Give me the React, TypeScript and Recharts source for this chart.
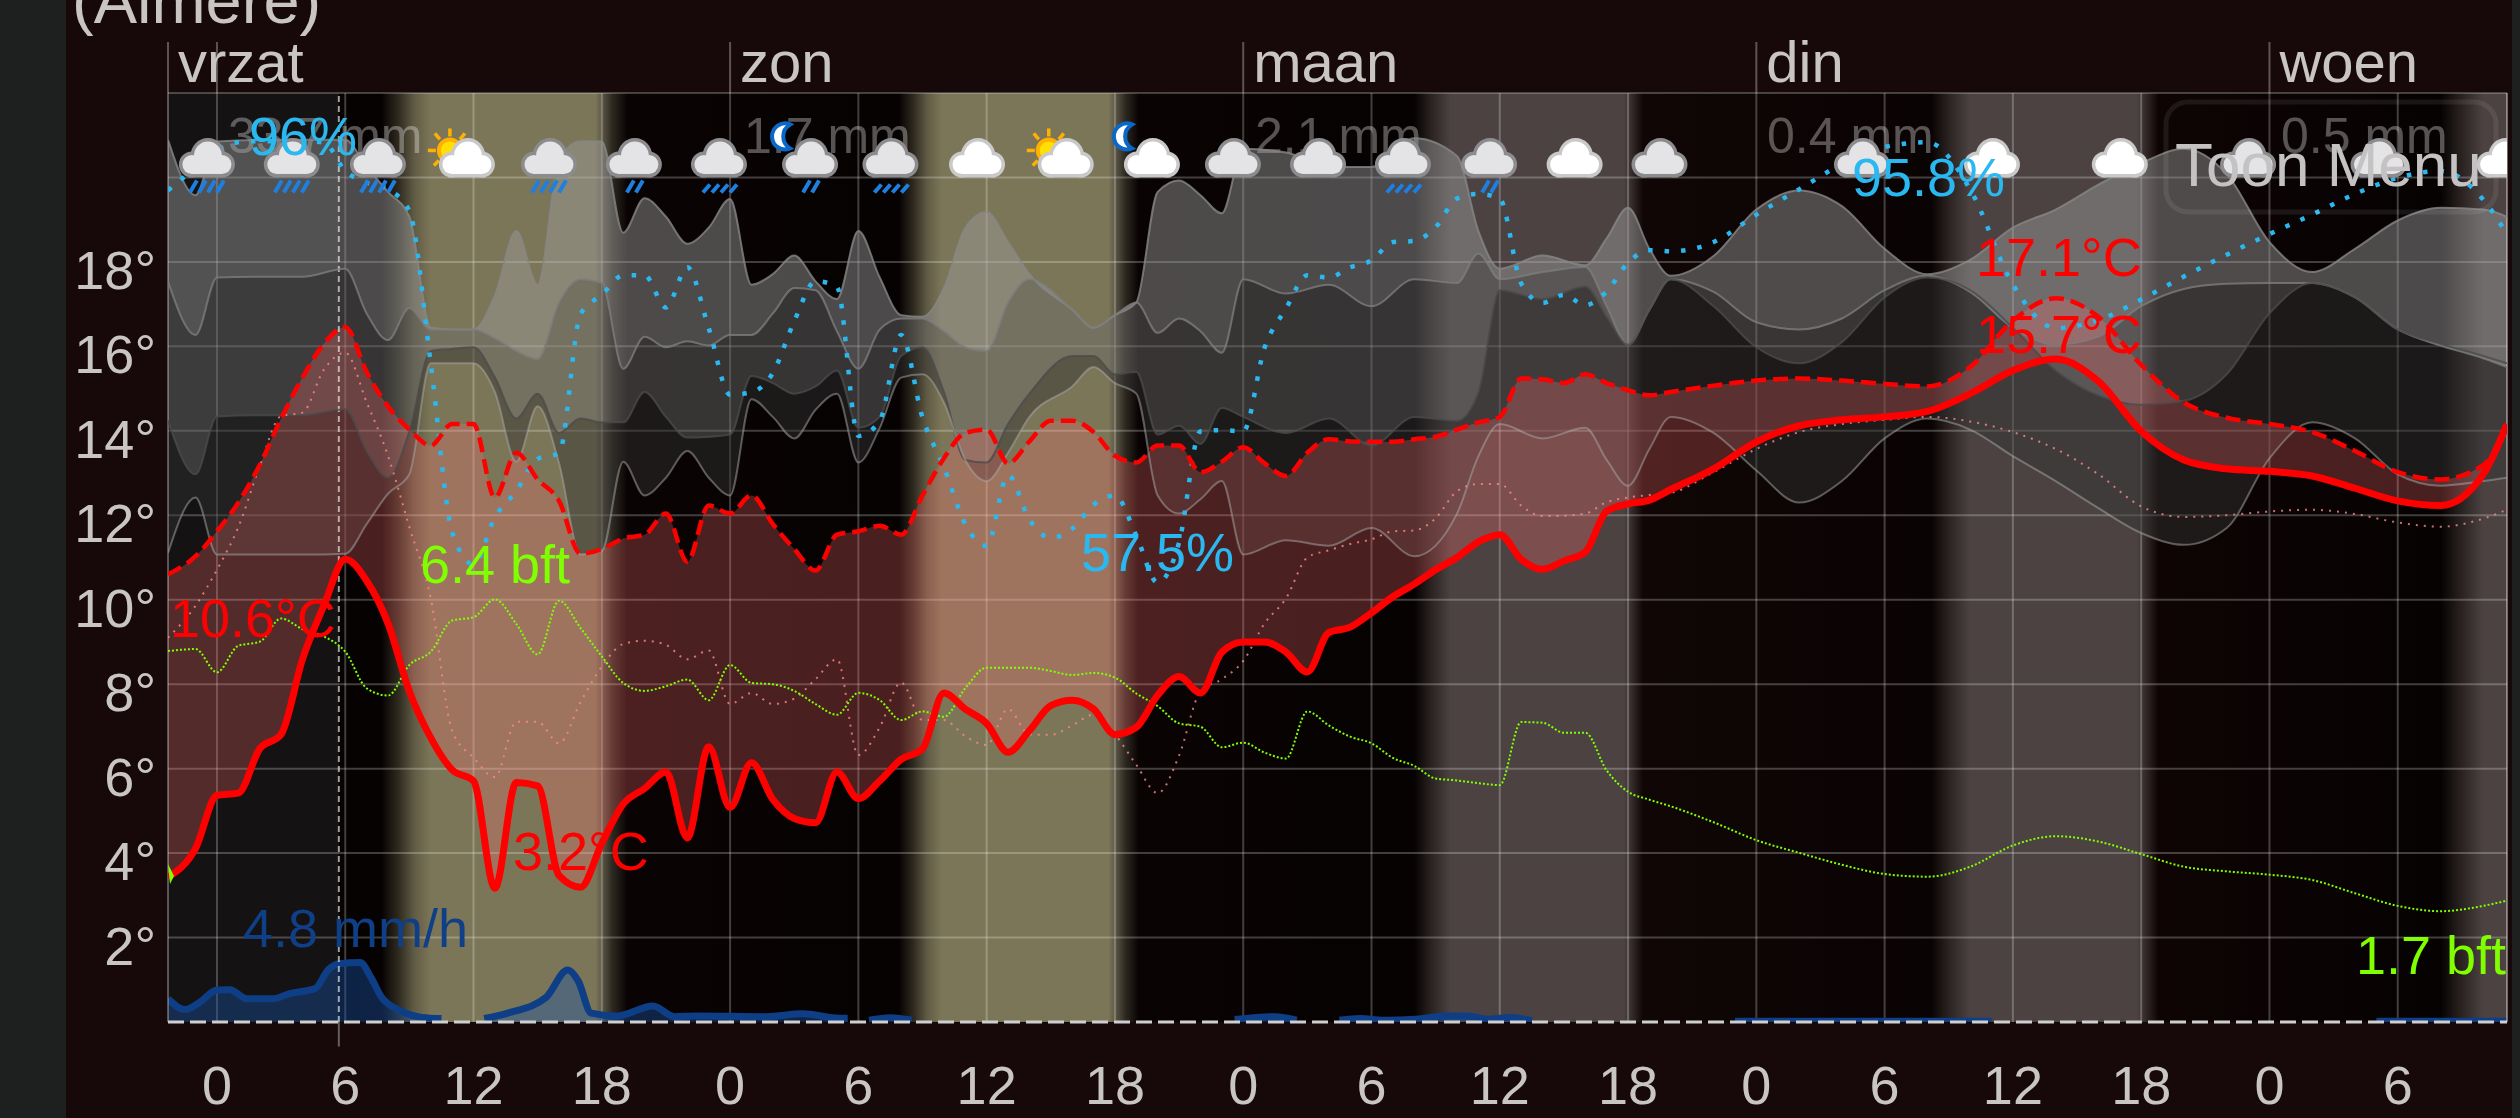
import { Area, CartesianGrid, ComposedChart, Line, ReferenceLine, XAxis, YAxis } from 'recharts';

const DOMAIN_X: [number, number] = [-2.29, 107.11];

const hourTicks = [0, 6, 12, 18, 24, 30, 36, 42, 48, 54, 60, 66, 72, 78, 84, 90, 96, 102];
const dayTicks = [-2.29, 0, 24, 48, 72, 96];
const dayNames = ['vrzat', '', 'zon', 'maan', 'din', 'woen'];
const degreeTicks = [2, 4, 6, 8, 10, 12, 14, 16, 18, 20, 22];

// hours where the sky colour changes, and the colour there
const skyHours = [-2.29, 5.7, 5.7, 7.7, 8.5, 9.2, 10, 17.7, 18, 18.5, 19.2, 31.9, 32.6, 33.2, 33.9, 41.7, 42, 42.5, 43.1, 56, 56.8, 57.7, 65.8, 66.1, 66.7, 80.2, 81, 82, 89.8, 90.1, 90.8, 104, 105, 106, 107.11];
const skyColors = ['#141212', '#141212', '#060202', '#070202', '#2f2b20', '#5f5a44', '#7c7658', '#7c7658', '#5d5845', '#2c2820', '#0a0303', '#060202', '#2f2b20', '#5f5a44', '#7c7658', '#7c7658', '#5d5845', '#2c2820', '#0a0303', '#060202', '#2a2322', '#4c4242', '#4c4242', '#3a3030', '#100606', '#0a0303', '#2a2322', '#4c4242', '#4c4242', '#3a3030', '#0e0404', '#060202', '#2a2322', '#4c4242', '#4c4242'];

const tempHours = [-2.29, -1, 0, 1, 2, 3, 4, 5, 6, 7, 8, 9, 10, 11, 12, 13, 14, 15, 16, 17, 18, 19, 20, 21, 22, 23, 24, 25, 26, 27, 28, 29, 30, 31, 32, 33, 34, 35, 36, 37, 38, 39, 40, 41, 42, 43, 44, 45, 46, 47, 48, 49, 50, 51, 52, 53, 54, 55, 56, 57, 58, 59, 60, 61, 62, 63, 64, 65, 66, 67, 68, 70, 72, 74, 76, 78, 80, 82, 84, 86, 88, 90, 92, 94, 96, 98, 100, 102, 104, 106, 107.11];
const tempMin = [3.43, 4.11, 5.37, 5.42, 6.47, 6.81, 8.59, 9.86, 10.96, 10.45, 9.44, 7.83, 6.73, 5.97, 5.71, 3.17, 5.67, 5.59, 3.47, 3.19, 4.23, 5.16, 5.53, 5.92, 4.36, 6.52, 5.08, 6.14, 5.27, 4.82, 4.72, 5.92, 5.29, 5.71, 6.22, 6.47, 7.79, 7.41, 7.07, 6.39, 6.9, 7.49, 7.62, 7.41, 6.81, 6.98, 7.74, 8.18, 7.79, 8.76, 9.0, 9.0, 8.76, 8.29, 9.22, 9.35, 9.69, 10.07, 10.37, 10.71, 11.0, 11.37, 11.54, 10.96, 10.72, 10.92, 11.13, 12.1, 12.27, 12.36, 12.61, 13.1, 13.74, 14.12, 14.26, 14.33, 14.46, 14.88, 15.43, 15.7, 15.17, 13.99, 13.31, 13.1, 13.04, 12.93, 12.64, 12.34, 12.23, 12.97, 14.16];
const tempMax = [10.6, 11.03, 11.62, 12.3, 13.19, 14.29, 15.26, 16.06, 16.46, 15.39, 14.58, 14.03, 13.65, 14.16, 14.16, 12.42, 13.48, 12.85, 12.34, 11.09, 11.2, 11.45, 11.54, 12.04, 10.9, 12.23, 12.04, 12.47, 11.79, 11.2, 10.69, 11.54, 11.62, 11.75, 11.54, 12.47, 13.35, 13.95, 14.03, 13.23, 13.75, 14.24, 14.24, 13.97, 13.41, 13.25, 13.65, 13.65, 13.02, 13.27, 13.61, 13.23, 12.93, 13.48, 13.8, 13.75, 13.74, 13.74, 13.8, 13.86, 14.03, 14.2, 14.33, 15.24, 15.22, 15.13, 15.34, 15.13, 14.96, 14.84, 14.92, 15.07, 15.19, 15.24, 15.19, 15.11, 15.05, 15.51, 16.61, 17.14, 16.7, 15.56, 14.67, 14.31, 14.16, 13.97, 13.52, 13.02, 12.85, 13.19, 14.07];
const tempAvg = [9.1, 9.86, 10.71, 11.72, 13.16, 14.35, 14.43, 15.45, 15.85, 14.68, 13.41, 11.72, 10.03, 6.9, 6.26, 5.8, 7.11, 7.11, 6.6, 7.57, 8.42, 8.95, 9.03, 8.93, 8.59, 8.8, 7.53, 7.79, 7.53, 7.66, 8.12, 8.59, 6.32, 6.98, 8.04, 7.15, 7.15, 6.77, 6.56, 7.41, 6.81, 6.8, 7.02, 7.28, 6.81, 6.09, 5.42, 6.31, 7.83, 8.12, 8.55, 9.44, 10.03, 11.0, 11.17, 11.32, 11.43, 11.62, 11.64, 11.93, 12.57, 12.74, 12.74, 12.23, 11.98, 11.99, 12.04, 12.31, 12.42, 12.48, 12.53, 13.02, 13.57, 13.97, 14.16, 14.26, 14.33, 14.22, 13.97, 13.57, 12.97, 12.21, 11.96, 12.0, 12.09, 12.13, 12.03, 11.83, 11.73, 11.92, 12.13];
const windBft = [5.59, 5.62, 5.27, 5.67, 5.73, 6.08, 5.92, 5.81, 5.58, 5.03, 4.92, 5.38, 5.58, 6.05, 6.1, 6.37, 6.0, 5.54, 6.35, 5.94, 5.51, 5.11, 4.99, 5.06, 5.16, 4.85, 5.38, 5.11, 5.09, 4.99, 4.79, 4.63, 4.96, 4.85, 4.55, 4.68, 4.6, 5.03, 5.34, 5.34, 5.34, 5.29, 5.23, 5.26, 5.19, 4.95, 4.76, 4.5, 4.45, 4.14, 4.21, 4.06, 3.97, 4.68, 4.47, 4.3, 4.2, 3.98, 3.86, 3.67, 3.64, 3.6, 3.57, 4.52, 4.51, 4.36, 4.36, 3.79, 3.47, 3.35, 3.25, 3.01, 2.74, 2.55, 2.37, 2.23, 2.19, 2.34, 2.66, 2.8, 2.72, 2.53, 2.34, 2.27, 2.22, 2.14, 1.94, 1.75, 1.67, 1.75, 1.83];
const humidity = [91.5, 93.5, 95.0, 95.7, 95.8, 95.8, 95.8, 95.7, 93.2, 92.2, 91.6, 89.7, 76.4, 61.7, 58.9, 63.0, 65.3, 68.1, 68.6, 80.7, 82.4, 84.1, 84.1, 81.3, 84.8, 79.5, 73.7, 73.9, 75.6, 80.1, 83.6, 83.1, 70.1, 71.4, 78.9, 71.7, 67.4, 62.4, 60.5, 66.7, 62.8, 61.2, 62.0, 64.1, 64.9, 61.4, 57.3, 60.8, 70.5, 70.6, 70.5, 77.8, 81.2, 84.1, 83.9, 84.8, 85.4, 87.0, 87.1, 88.3, 90.8, 91.2, 90.8, 83.4, 81.7, 82.4, 81.5, 82.7, 85.2, 86.3, 86.2, 87.0, 89.4, 91.6, 93.8, 95.3, 95.7, 91.6, 83.3, 79.5, 80.2, 82.0, 84.0, 85.9, 87.7, 89.4, 91.2, 92.6, 93.2, 90.7, 87.7];

const cloudHours = [-2.29, -1, 0, 2, 4, 6, 7, 8, 9, 10, 11, 12, 13, 14, 15, 16, 17, 18, 19, 20, 21, 22, 23, 24, 25, 26, 27, 28, 29, 30, 31, 32, 33, 34, 35, 36, 37, 38, 40, 41, 42, 43, 44, 45, 46, 47, 48, 50, 52, 54, 56, 58, 59, 60, 62, 64, 65, 66, 67, 68, 70, 72, 74, 76, 78, 80, 82, 84, 86, 88, 90, 92, 94, 96, 98, 100, 102, 104, 106, 107.11];
const cloudTop = [20.89, 19.58, 20.85, 20.89, 20.89, 20.89, 20.25, 19.66, 19.07, 16.44, 16.4, 16.4, 17.21, 18.73, 17.46, 20.42, 20.86, 20.85, 18.69, 19.51, 19.07, 18.43, 18.81, 19.49, 17.46, 17.71, 18.15, 17.54, 17.12, 18.73, 17.63, 16.74, 16.7, 17.38, 18.81, 19.18, 18.47, 17.71, 16.87, 16.44, 16.74, 17.04, 19.66, 19.93, 19.58, 19.15, 20.68, 20.59, 20.25, 20.25, 20.93, 20.51, 18.73, 17.84, 18.15, 17.92, 18.56, 19.28, 18.31, 17.67, 18.14, 19.24, 19.69, 19.32, 18.31, 17.71, 18.05, 18.81, 19.24, 19.83, 20.34, 20.68, 20.08, 18.47, 17.76, 18.31, 18.98, 19.28, 19.24, 19.07];
const cloudHigh = [17.54, 16.27, 17.63, 17.65, 17.65, 17.84, 16.78, 16.15, 16.91, 16.4, 16.4, 16.4, 16.19, 15.89, 15.7, 17.04, 17.59, 17.5, 15.47, 16.23, 15.98, 16.12, 16.02, 16.27, 16.27, 16.78, 17.38, 17.33, 16.36, 15.47, 16.4, 16.66, 16.66, 16.36, 15.98, 15.89, 17.04, 17.59, 16.87, 16.44, 16.74, 17.04, 16.32, 16.66, 16.36, 15.85, 17.59, 17.25, 17.46, 16.95, 17.59, 17.5, 18.2, 17.59, 17.76, 17.88, 16.95, 16.04, 16.87, 17.59, 17.29, 16.57, 16.4, 16.66, 17.33, 17.67, 17.29, 16.44, 16.04, 16.23, 16.95, 17.36, 17.48, 17.5, 17.5, 17.16, 16.4, 16.02, 15.72, 15.51];
const cloudMid = [14.24, 12.97, 14.34, 14.37, 14.37, 14.51, 13.52, 12.89, 13.99, 15.89, 15.94, 15.98, 15.26, 14.29, 14.88, 13.95, 14.29, 14.2, 14.2, 14.92, 14.33, 13.84, 13.86, 13.91, 15.3, 15.13, 14.88, 15.05, 15.43, 14.07, 14.33, 15.77, 15.98, 14.92, 13.31, 13.25, 14.16, 14.88, 15.77, 15.77, 15.34, 15.39, 13.91, 14.12, 13.69, 14.54, 14.33, 13.95, 14.29, 13.65, 14.33, 14.24, 14.92, 17.33, 17.12, 17.42, 16.7, 16.04, 16.87, 17.59, 16.95, 15.98, 15.6, 16.1, 17.16, 17.63, 17.33, 16.44, 15.43, 14.84, 14.62, 14.71, 15.34, 16.78, 17.5, 17.16, 16.4, 16.06, 15.77, 15.6];
const cloudLow = [11.11, 12.42, 11.07, 11.07, 11.07, 11.09, 11.79, 12.51, 12.97, 15.6, 15.6, 15.6, 14.92, 13.27, 14.58, 13.23, 11.07, 11.15, 13.27, 12.47, 12.89, 13.52, 12.89, 12.47, 14.75, 14.33, 13.82, 14.5, 14.88, 13.25, 14.07, 15.26, 15.34, 14.67, 13.31, 12.81, 13.48, 14.33, 15.05, 15.51, 15.13, 14.88, 12.47, 12.04, 12.38, 12.81, 11.07, 11.41, 11.28, 11.7, 11.03, 12.04, 13.4, 14.16, 13.82, 14.07, 13.31, 12.7, 13.57, 14.33, 13.95, 13.06, 12.3, 12.81, 13.82, 14.29, 14.03, 13.4, 12.81, 12.17, 11.58, 11.3, 11.7, 13.35, 14.2, 13.82, 12.97, 12.7, 12.81, 12.89];

const rainHours = [-2.29, -1.5, -0.8, 0, 0.6, 1.4, 2.6, 3.4, 4.6, 5.2, 5.7, 6.7, 7.2, 7.7, 8.6, 9.6, 10.5, 11, 12.5, 13.6, 15.4, 16.4, 16.9, 17.5, 18.7, 20.4, 21.4, 22.4, 25.7, 27.4, 29.1, 29.5, 30, 30.5, 31.5, 32.5, 33, 47.6, 49.5, 50.5, 51.5, 52.5, 53.5, 54.5, 56.1, 57.5, 58.5, 59.5, 60.5, 61.5, 65, 71, 83, 90, 101, 107.11];
const rainMm = [1.87, 1.0, 1.6, 2.59, 2.6, 1.87, 1.87, 2.3, 2.7, 4.2, 4.7, 4.8, 3.6, 2.0, 0.9, 0.37, 0.28, null, 0.28, 0.72, 2.0, 4.2, 3.3, 0.72, 0.49, 1.29, 0.43, 0.49, 0.43, 0.66, 0.3, 0.3, null, 0.14, 0.34, 0.14, null, 0.2, 0.43, 0.14, null, 0.14, 0.29, 0.14, 0.23, 0.49, 0.49, 0.23, 0.37, 0.1, null, 0.06, 0.06, null, 0.06, 0.06];

// weather icons along the top
const iconHours = [-0.47, 3.5, 7.53, 11.69, 15.53, 19.5, 23.48, 27.74, 31.5, 35.55, 39.7, 43.73, 47.52, 51.5, 55.47, 59.5, 63.5, 67.47, 76.94, 83.02, 89, 95, 101.1, 107];
const iconClouds = ['grey', 'grey', 'grey', 'white', 'grey', 'grey', 'grey', 'grey', 'grey', 'white', 'white', 'white', 'grey', 'grey', 'grey', 'grey', 'white', 'grey', 'grey', 'white', 'white', 'grey', 'grey', 'white'];
const iconRain = [4, 4, 4, 0, 4, 2, 1, 2, 1, 0, 0, 0, 0, 0, 1, 2, 0, 0, 0, 0, 0, 0, 0, 0];
const iconExtras = ['', '', '', 'sun', '', '', '', 'moon', '', '', 'sun', 'moon', '', '', '', '', '', '', '', '', '', '', '', ''];

const tempRows = tempHours.map((h, i) => ({
  h,
  low: tempMin[i],
  high: tempMax[i],
  range: [tempMin[i], tempMax[i]],
  avg: tempAvg[i],
  wind: windBft[i],
  hum: humidity[i],
}));
const cloudRows = cloudHours.map((h, i) => ({
  h,
  top: cloudTop[i],
  high: cloudHigh[i],
  mid: cloudMid[i],
  low: cloudLow[i],
  layerA: [cloudHigh[i], cloudTop[i]],
  layerB: [cloudMid[i], cloudHigh[i]],
  layerC: [cloudLow[i], cloudMid[i]],
}));
const rainRows = rainHours.map((h, i) => ({ h, mm: rainMm[i] }));
const iconRows = iconHours.map((h, i) => ({ h, y: 20, cloud: iconClouds[i], rain: iconRain[i], extra: iconExtras[i] }));
const dayRows = dayTicks.map((h) => ({ h, y: 21 }));

const FONT = '"Liberation Sans", Arial, sans-serif';
const GREY_TEXT = '#c9c5c5';
const GRID = 'rgba(255,255,255,0.24)';

function YTick({ y, payload }: any) {
  if (payload.value > 18) return null;
  return (
    <text x={156} y={y + 27} textAnchor="end" fontFamily={FONT} fontSize={54} fill={GREY_TEXT}>
      {payload.value}°
    </text>
  );
}

function DayTick({ x, index }: any) {
  return (
    <text x={x + 10} y={82} fontFamily={FONT} fontSize={58} fill={GREY_TEXT}>
      {dayNames[index]}
    </text>
  );
}

function WeatherIcon({ cx, cy, payload }: any) {
  const edge = payload.cloud === 'white' ? '#c9c9c9' : '#8c8c8e';
  const body = payload.cloud === 'white' ? '#ffffff' : '#e4e4e6';
  const shape = (
    <>
      <circle cx={-15} cy={-13} r={9.5} />
      <circle cx={15} cy={-13} r={9.5} />
      <ellipse cx={1} cy={-21} rx={14} ry={15} />
      <rect x={-15} y={-14} width={30} height={10.5} />
    </>
  );
  const strokes = payload.rain === 1 ? [-13, -4, 5, 14] : payload.rain === 2 ? [-4, 5] : payload.rain === 4 ? [-14, -5, 4, 13] : [];
  const short = payload.rain === 1;
  return (
    <g transform={`translate(${cx},${cy})`}>
      {payload.extra === 'sun' && (
        <g transform="translate(-17,-27)" stroke="#ffb000" strokeWidth={3.5}>
          <line x1={0} y1={-14} x2={0} y2={-22} />
          <line x1={-10} y1={-11} x2={-15} y2={-17} />
          <line x1={10} y1={-11} x2={15} y2={-17} />
          <line x1={-14} y1={0} x2={-22} y2={0} />
          <line x1={-11} y1={10} x2={-16} y2={15} />
          <circle r={11} fill="#ffe000" strokeWidth={4} />
        </g>
      )}
      {payload.extra === 'moon' && (
        <path d="M-20,-53 A13,13 0 1,0 -20,-29 A14,14 0 0,1 -20,-53 Z" fill="#fff" stroke="#0a68c8" strokeWidth={4} />
      )}
      <g fill={edge} stroke={edge} strokeWidth={7}>{shape}</g>
      <g fill={body}>{shape}</g>
      {strokes.map((s) => (
        <line key={s} x1={s + 4} y1={short ? 7 : 3} x2={s - 3} y2={15} stroke="#1e7fe0" strokeWidth={4} />
      ))}
    </g>
  );
}

function renderIcon(props: any) {
  return <WeatherIcon key={props.index} {...props} />;
}

const dayRain = [
  { text: '33.7 mm', x: 228 },
  { text: '1.7 mm', x: 744 },
  { text: '2.1 mm', x: 1255 },
  { text: '0.4 mm', x: 1767 },
  { text: '0.5 mm', x: 2281 },
];

const chartLabels = [
  { text: '96%', x: 249, y: 155, fill: '#2ab8f0' },
  { text: '95.8%', x: 1852, y: 196, fill: '#2ab8f0' },
  { text: '57.5%', x: 1081, y: 571, fill: '#2ab8f0' },
  { text: '6.4 bft', x: 420, y: 583, fill: '#7fff00' },
  { text: '1.7 bft', x: 2356, y: 974, fill: '#7fff00' },
  { text: '10.6°C', x: 170, y: 637, fill: '#ff0000' },
  { text: '3.2°C', x: 513, y: 870, fill: '#ff0000' },
  { text: '17.1°C', x: 1976, y: 276, fill: '#ff0000' },
  { text: '15.7°C', x: 1976, y: 353, fill: '#ff0000' },
  { text: '4.8 mm/h', x: 243, y: 947, fill: '#0f3f86' },
];

export default function App() {
  const span = DOMAIN_X[1] - DOMAIN_X[0];
  return (
    <div style={{ position: 'absolute', left: 0, top: 0, width: 2520, height: 1118, background: '#1e1f1f', overflow: 'hidden' }}>
      <div style={{ position: 'absolute', left: 66, top: 0, width: 2446, height: 1118, background: '#170909' }} />
      <div style={{ position: 'absolute', left: 72, top: -37, fontFamily: FONT, fontSize: 65, color: GREY_TEXT, whiteSpace: 'nowrap' }}>(Almere)</div>
      <div style={{ position: 'absolute', left: 0, top: 0 }}>
        <ComposedChart width={2520} height={1118} margin={{ top: 42, right: 13, bottom: 0, left: 0 }}>
          <defs>
            <linearGradient id="sky" x1="0" y1="0" x2="1" y2="0">
              {skyHours.map((h, i) => (
                <stop key={i} offset={(h - DOMAIN_X[0]) / span} stopColor={skyColors[i]} />
              ))}
            </linearGradient>
          </defs>
          <XAxis
            dataKey="h"
            type="number"
            domain={DOMAIN_X}
            allowDataOverflow
            ticks={hourTicks}
            interval={0}
            height={96}
            axisLine={false}
            tickLine={false}
            tickMargin={38}
            tickFormatter={(h: number) => String(h % 24)}
            tick={{ fill: GREY_TEXT, fontSize: 54, fontFamily: FONT }}
          />
          <XAxis
            xAxisId="days"
            dataKey="h"
            orientation="top"
            type="number"
            domain={DOMAIN_X}
            allowDataOverflow
            ticks={dayTicks}
            interval={0}
            height={51}
            tickSize={51}
            axisLine={false}
            tickLine={{ stroke: 'rgba(255,255,255,0.3)', strokeWidth: 2 }}
            tick={<DayTick />}
          />
          <YAxis yAxisId="temp" width={168} domain={[0, 22]} ticks={degreeTicks} interval={0} axisLine={false} tickLine={false} tickMargin={12} tick={<YTick />} />
          <YAxis yAxisId="hum" hide domain={[19, 100]} />
          <YAxis yAxisId="wind" hide domain={[0, 14]} />
          <YAxis yAxisId="rain" hide domain={[0, 75]} allowDataOverflow />
          <CartesianGrid yAxisId="temp" fill="url(#sky)" fillOpacity={1} stroke={GRID} strokeWidth={2} verticalValues={hourTicks} horizontalValues={degreeTicks} syncWithTicks />

          <ReferenceLine yAxisId="temp" x={DOMAIN_X[0]} stroke="rgba(255,255,255,0.3)" strokeWidth={2} />
          <ReferenceLine yAxisId="temp" x={DOMAIN_X[1]} stroke="rgba(255,255,255,0.4)" strokeWidth={2} />
          <ReferenceLine yAxisId="temp" y={0} stroke="#cfcfcf" strokeWidth={3} strokeDasharray="16 6" />
          <ReferenceLine yAxisId="temp" x={5.7} stroke="rgba(255,255,255,0.6)" strokeWidth={2} strokeDasharray="6 4" />
          <ReferenceLine
            yAxisId="temp"
            ifOverflow="visible"
            segment={[{ x: 5.7, y: 0 }, { x: 5.7, y: -0.58 }]}
            stroke="rgba(255,255,255,0.35)"
            strokeWidth={2}
          />

          <Line xAxisId="days" yAxisId="temp" data={dayRows} dataKey="y" stroke="none" dot={false} isAnimationActive={false} />

          {/* the three cloud layers share one opacity, only the grey differs */}
          <Area yAxisId="temp" data={cloudRows} dataKey="layerC" type="monotone" fill="#343434" fillOpacity={0.47} stroke="none" isAnimationActive={false} />
          <Area yAxisId="temp" data={cloudRows} dataKey="layerB" type="monotone" fill="#6d6d6d" fillOpacity={0.47} stroke="none" isAnimationActive={false} />
          <Area yAxisId="temp" data={cloudRows} dataKey="layerA" type="monotone" fill="#9c9c9c" fillOpacity={0.47} stroke="none" isAnimationActive={false} />
          <Line yAxisId="temp" data={cloudRows} dataKey="top" type="monotone" stroke="rgba(135,135,135,0.8)" strokeWidth={2} dot={false} isAnimationActive={false} />
          <Line yAxisId="temp" data={cloudRows} dataKey="high" type="monotone" stroke="rgba(125,125,125,0.8)" strokeWidth={2} dot={false} isAnimationActive={false} />
          <Line yAxisId="temp" data={cloudRows} dataKey="mid" type="monotone" stroke="rgba(75,75,75,0.8)" strokeWidth={2} dot={false} isAnimationActive={false} />
          <Line yAxisId="temp" data={cloudRows} dataKey="low" type="monotone" stroke="rgba(170,170,170,0.5)" strokeWidth={2} dot={false} isAnimationActive={false} />

          <Area yAxisId="temp" data={tempRows} dataKey="range" type="monotone" fill="#ff6e6e" fillOpacity={0.27} stroke="none" isAnimationActive={false} />
          <Line yAxisId="temp" data={tempRows} dataKey="avg" type="monotone" stroke="#ff8a8a" strokeOpacity={0.8} strokeWidth={2} strokeDasharray="2 6" dot={false} isAnimationActive={false} />
          <Area yAxisId="rain" data={rainRows} dataKey="mm" type="monotone" fill="#1a55aa" fillOpacity={0.4} stroke="#0e3f86" strokeWidth={7} isAnimationActive={false} />
          <Line yAxisId="wind" data={tempRows} dataKey="wind" type="monotone" stroke="#7fff00" strokeWidth={2} strokeDasharray="2 2" dot={false} isAnimationActive={false} />
          <Line yAxisId="hum" data={tempRows} dataKey="hum" type="monotone" stroke="#2ab8f0" strokeWidth={4.5} strokeDasharray="4.5 12" dot={false} isAnimationActive={false} />
          <Line yAxisId="temp" data={tempRows} dataKey="high" type="monotone" stroke="#ff0000" strokeWidth={4.5} strokeDasharray="15 7" dot={false} isAnimationActive={false} />
          <Line yAxisId="temp" data={tempRows} dataKey="low" type="monotone" stroke="#ff0000" strokeWidth={7} dot={false} isAnimationActive={false} />

          {dayRain.map((d) => (
            <text key={d.x} x={d.x} y={153} fontFamily={FONT} fontSize={50} fill="#ffffff" fillOpacity={0.32}>{d.text}</text>
          ))}
          <Line yAxisId="temp" data={iconRows} dataKey="y" stroke="none" dot={renderIcon} isAnimationActive={false} />
        </ComposedChart>
      </div>
      <svg width={2520} height={1118} style={{ position: 'absolute', left: 0, top: 0 }}>
        {chartLabels.map((l) => (
          <text key={l.text} x={l.x} y={l.y} fontFamily={FONT} fontSize={54} fill={l.fill}>{l.text}</text>
        ))}
        <path d="M168,864 L174,876 L170,884 Z" fill="#7fff00" />
        <rect x={2166} y={102} width={330} height={110} rx={22} fill="none" stroke="rgba(255,255,255,0.08)" strokeWidth={5} />
        <text x={2175} y={186} fontFamily={FONT} fontSize={62} fill="#c4c2c2">Toon Menu</text>
      </svg>
      <div style={{ position: 'absolute', left: 2512, top: 0, width: 8, height: 1118, background: '#1e1f1f' }} />
    </div>
  );
}
